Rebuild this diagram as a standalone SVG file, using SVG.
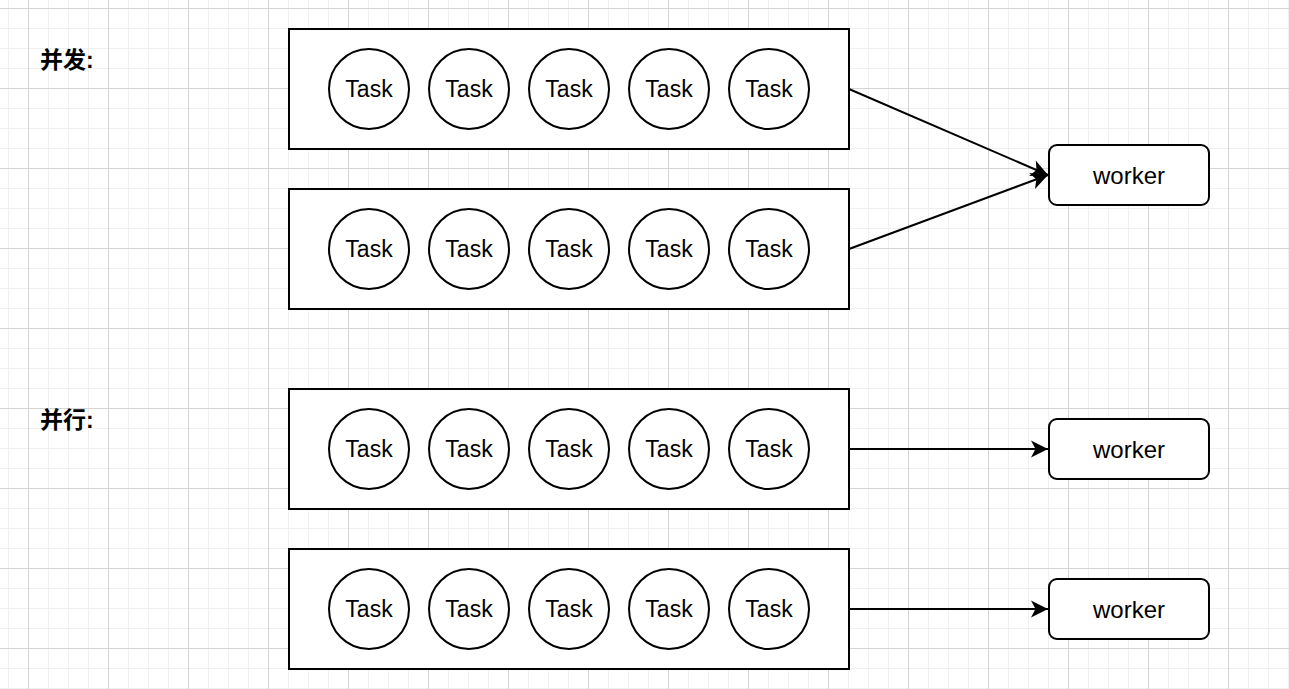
<svg xmlns="http://www.w3.org/2000/svg" width="1289" height="689" viewBox="0 0 1289 689">
<defs>
<pattern id="minor" x="8" y="8" width="20" height="20" patternUnits="userSpaceOnUse">
<path d="M0 0.5H20M0.5 0V20" fill="none" stroke="#f0f0f0" stroke-width="1"/>
</pattern>
<pattern id="major" x="28" y="8" width="80" height="80" patternUnits="userSpaceOnUse">
<path d="M0 0.5H80M0.5 0V80" fill="none" stroke="#d4d4d4" stroke-width="1"/>
</pattern>
<marker id="arr" viewBox="0 0 20 20" refX="19" refY="10" markerWidth="20" markerHeight="20" markerUnits="userSpaceOnUse" orient="auto">
<path d="M2 1.5 L19 10 L2 18.5 L6.5 10 Z" fill="#000"/>
</marker>
</defs>
<style>
.box{fill:#fff;stroke:#000;stroke-width:2}
.task{fill:#fff;stroke:#000;stroke-width:2}
.t{font-family:"Liberation Sans",Arial,sans-serif;font-size:23px;fill:#000;text-anchor:middle;dominant-baseline:central}
.w{font-size:24px}
.lbl{font-family:"Liberation Sans","Noto Sans CJK SC",sans-serif;font-size:23px;font-weight:bold;fill:#000}
.conn{fill:none;stroke:#000;stroke-width:2;marker-end:url(#arr)}
</style>
<rect width="1289" height="689" fill="#fff"/>
<rect width="1289" height="689" fill="url(#minor)"/>
<rect width="1289" height="689" fill="url(#major)"/>

<g id="label-concurrent"><text class="lbl" x="40" y="68">并发:</text></g>
<g id="label-parallel"><text class="lbl" x="40" y="428">并行:</text></g>

<g id="queue1">
<rect class="box" x="289" y="29" width="560" height="120"/>
<circle class="task" cx="369" cy="89" r="40"/><text class="t" x="369" y="89">Task</text>
<circle class="task" cx="469" cy="89" r="40"/><text class="t" x="469" y="89">Task</text>
<circle class="task" cx="569" cy="89" r="40"/><text class="t" x="569" y="89">Task</text>
<circle class="task" cx="669" cy="89" r="40"/><text class="t" x="669" y="89">Task</text>
<circle class="task" cx="769" cy="89" r="40"/><text class="t" x="769" y="89">Task</text>
</g>
<g id="queue2">
<rect class="box" x="289" y="189" width="560" height="120"/>
<circle class="task" cx="369" cy="249" r="40"/><text class="t" x="369" y="249">Task</text>
<circle class="task" cx="469" cy="249" r="40"/><text class="t" x="469" y="249">Task</text>
<circle class="task" cx="569" cy="249" r="40"/><text class="t" x="569" y="249">Task</text>
<circle class="task" cx="669" cy="249" r="40"/><text class="t" x="669" y="249">Task</text>
<circle class="task" cx="769" cy="249" r="40"/><text class="t" x="769" y="249">Task</text>
</g>
<g id="queue3">
<rect class="box" x="289" y="389" width="560" height="120"/>
<circle class="task" cx="369" cy="449" r="40"/><text class="t" x="369" y="449">Task</text>
<circle class="task" cx="469" cy="449" r="40"/><text class="t" x="469" y="449">Task</text>
<circle class="task" cx="569" cy="449" r="40"/><text class="t" x="569" y="449">Task</text>
<circle class="task" cx="669" cy="449" r="40"/><text class="t" x="669" y="449">Task</text>
<circle class="task" cx="769" cy="449" r="40"/><text class="t" x="769" y="449">Task</text>
</g>
<g id="queue4">
<rect class="box" x="289" y="549" width="560" height="120"/>
<circle class="task" cx="369" cy="609" r="40"/><text class="t" x="369" y="609">Task</text>
<circle class="task" cx="469" cy="609" r="40"/><text class="t" x="469" y="609">Task</text>
<circle class="task" cx="569" cy="609" r="40"/><text class="t" x="569" y="609">Task</text>
<circle class="task" cx="669" cy="609" r="40"/><text class="t" x="669" y="609">Task</text>
<circle class="task" cx="769" cy="609" r="40"/><text class="t" x="769" y="609">Task</text>
</g>

<g id="worker1"><rect class="box" x="1049" y="145" width="160" height="60" rx="8"/><text class="t w" x="1129" y="175">worker</text></g>
<g id="worker2"><rect class="box" x="1049" y="419" width="160" height="60" rx="8"/><text class="t w" x="1129" y="449">worker</text></g>
<g id="worker3"><rect class="box" x="1049" y="579" width="160" height="60" rx="8"/><text class="t w" x="1129" y="609">worker</text></g>

<g id="connectors">
<path class="conn" d="M849 89 L1048 175"/>
<path class="conn" d="M849 249 L1048 175"/>
<path class="conn" d="M849 449 L1048 449"/>
<path class="conn" d="M849 609 L1048 609"/>
</g>
</svg>
